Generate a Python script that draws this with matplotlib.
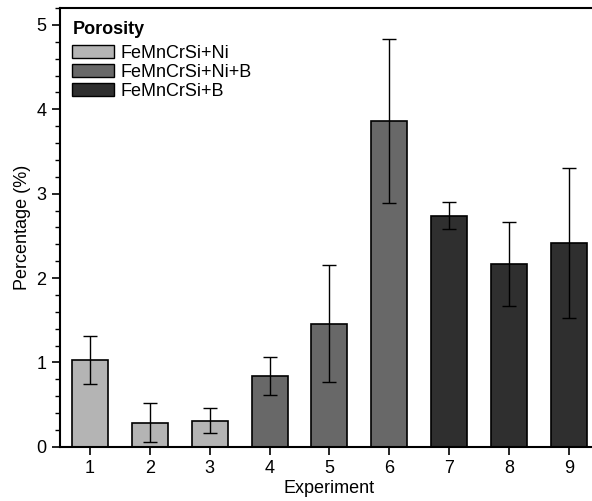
import numpy as np
import matplotlib.pyplot as plt
from matplotlib.patches import Patch
from matplotlib.ticker import MultipleLocator

plt.rcParams['font.family'] = ['Liberation Sans', 'DejaVu Sans']

experiments = [1, 2, 3, 4, 5, 6, 7, 8, 9]
porosity = [1.03, 0.285, 0.31, 0.84, 1.46, 3.86, 2.74, 2.17, 2.42]
errors = [0.28, 0.23, 0.15, 0.22, 0.69, 0.97, 0.16, 0.50, 0.89]
groups = [0, 0, 0, 1, 1, 1, 2, 2, 2]
group_names = ['FeMnCrSi+Ni', 'FeMnCrSi+Ni+B', 'FeMnCrSi+B']
group_colors = ['#b4b4b4', '#686868', '#2f2f2f']

fig = plt.figure(figsize=(5.92, 5.01), dpi=100)
ax = fig.add_axes([0.101, 0.108, 0.911, 0.876])

colors = [group_colors[g] for g in groups]
ax.bar(experiments, porosity, width=0.6, color=colors, edgecolor='black', linewidth=1.2,
       yerr=errors, error_kw=dict(ecolor='black', elinewidth=1.0, capsize=5, capthick=1.0))

ax.set_xlim(0.5, 9.5)
ax.set_ylim(0, 5.2)
ax.set_xticks(experiments)
ax.yaxis.set_major_locator(MultipleLocator(1))
ax.yaxis.set_minor_locator(MultipleLocator(0.2))
ax.tick_params(axis='both', which='major', direction='out', length=6, width=1.2, labelsize=13)
ax.tick_params(axis='y', which='minor', direction='out', length=3.5, width=1.0)
for s in ax.spines.values():
    s.set_linewidth(1.5)

ax.set_xlabel('Experiment', fontsize=13, labelpad=2)
ax.set_ylabel('Percentage (%)', fontsize=13, labelpad=4)

handles = [Patch(facecolor=c, edgecolor='black', linewidth=1.0) for c in group_colors]
leg = ax.legend(handles, group_names, title='Porosity', loc='upper left', frameon=False,
                fontsize=13, handlelength=2.3, handleheight=0.75, handletextpad=0.35,
                labelspacing=0.12, borderaxespad=0.4, borderpad=0.3)
leg.get_title().set_fontweight('bold')
leg.get_title().set_fontsize(13)
leg._legend_box.align = 'left'
leg._legend_box.sep = 5

plt.savefig('out.png', dpi=100)
